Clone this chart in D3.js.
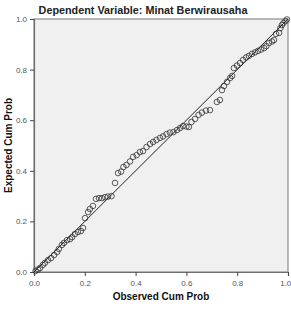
<html>
<head>
    <script src="https://d3js.org/d3.v7.min.js"></script>
    <style>
        html,body{
            margin: 0px;
            padding: 0px;
            background-color: white;
        }
        text {
            font-family: "Liberation Sans", Arial, sans-serif;
        }
    </style>
</head>
<body>
    <div id="chart"></div>
    <script>
        // observed / expected cumulative probabilities
        const observed = [
            .006, .016, .024, .035, .043, .055, .067, .079, .091, .098,
            .110, .118, .130, .142, .150, .161, .173, .185, .193, .201,
            .213, .220, .232, .244, .256, .268, .280, .291, .305, .319,
            .331, .343, .352, .364, .378, .390, .404, .417, .429, .443,
            .457, .469, .482, .496, .508, .522, .535, .549, .563, .575,
            .587, .600, .610, .620, .634, .648, .661, .677, .693, .720,
            .732, .740, .748, .760, .772, .780, .787, .799, .811, .823,
            .835, .846, .858, .870, .882, .894, .906, .915, .925, .937,
            .945, .953, .965, .970, .976, .982, .990, .996
        ];
        const expected = [
            .004, .010, .016, .028, .036, .047, .055, .067, .079, .091,
            .107, .115, .126, .130, .138, .150, .158, .162, .174, .213,
            .237, .249, .261, .289, .292, .292, .296, .298, .300, .352,
            .391, .397, .415, .423, .437, .455, .462, .474, .478, .494,
            .506, .514, .522, .530, .536, .545, .551, .553, .561, .569,
            .577, .575, .573, .593, .605, .621, .630, .638, .640, .672,
            .680, .719, .735, .751, .767, .775, .806, .816, .826, .838,
            .848, .854, .862, .868, .874, .879, .885, .893, .905, .911,
            .917, .941, .945, .964, .976, .984, .992, .998
        ];
        const ticks = [0, 0.2, 0.4, 0.6, 0.8, 1.0];
        const title = "Dependent Variable: Minat Berwirausaha";
        const xTitle = "Observed Cum Prob";
        const yTitle = "Expected Cum Prob";

        const margin = {top: 19, right: 3, bottom: 44, left: 34},
            width = 291 - margin.left - margin.right,
            height = 316 - margin.top - margin.bottom;

        const data = observed.map((d, i) => ({x: d, y: expected[i]}));

        const svg = d3.select("#chart")
            .append("svg")
                .attr("width", 291)
                .attr("height", 316)
            .append("g")
                .attr("transform", "translate(" + margin.left + "," + margin.top + ")");

        const x = d3.scaleLinear().domain([0, 1]).range([0, width]);
        const y = d3.scaleLinear().domain([0, 1]).range([height, 0]);

        // plot background + frame
        svg.append("rect")
            .attr("width", width)
            .attr("height", height)
            .attr("fill", "#f0f0f0")
            .attr("stroke", "#8c8c8c")
            .attr("stroke-width", 1.2);

        // axes
        const xAxis = svg.append("g")
            .attr("transform", "translate(0," + height + ")")
            .call(d3.axisBottom(x).tickValues(ticks).tickSize(4).tickFormat(d3.format(".1f")));
        const yAxis = svg.append("g")
            .call(d3.axisLeft(y).tickValues(ticks).tickSize(4).tickFormat(d3.format(".1f")));

        svg.selectAll(".domain").attr("stroke", "#6e6e6e").attr("stroke-width", 1.2);
        svg.selectAll(".tick line").attr("stroke", "#444");
        svg.selectAll(".tick text")
            .attr("font-size", 8)
            .attr("fill", "#555");
        xAxis.selectAll(".tick text").attr("dy", "0.9em");
        // last label sits against the edge, as in the original
        xAxis.selectAll(".tick text").filter(d => d === 1).attr("text-anchor", "end").attr("dx", "0.35em");

        // diagonal reference line
        svg.append("line")
            .attr("x1", x(0)).attr("y1", y(0))
            .attr("x2", x(1)).attr("y2", y(1))
            .attr("stroke", "#222")
            .attr("stroke-width", 1);

        // points
        svg.append("g")
            .selectAll("circle")
            .data(data)
            .enter()
            .append("circle")
                .attr("cx", d => x(d.x))
                .attr("cy", d => y(d.y))
                .attr("r", 2.8)
                .attr("fill", "none")
                .attr("stroke", "#333")
                .attr("stroke-width", 0.8);

        // titles
        svg.append("text")
            .attr("text-anchor", "middle")
            .attr("x", 143 - margin.left)
            .attr("y", 14 - margin.top)
            .attr("font-size", 10.8)
            .attr("font-weight", "bold")
            .attr("fill", "#222")
            .text(title);

        svg.append("text")
            .attr("text-anchor", "middle")
            .attr("x", width / 2)
            .attr("y", 300 - margin.top)
            .attr("font-size", 10)
            .attr("font-weight", "bold")
            .attr("fill", "#111")
            .text(xTitle);

        svg.append("text")
            .attr("text-anchor", "middle")
            .attr("transform", "translate(" + (12 - margin.left) + "," + (height / 2) + ") rotate(-90)")
            .attr("font-size", 10)
            .attr("font-weight", "bold")
            .attr("fill", "#111")
            .text(yTitle);
    </script>
</body>
</html>
